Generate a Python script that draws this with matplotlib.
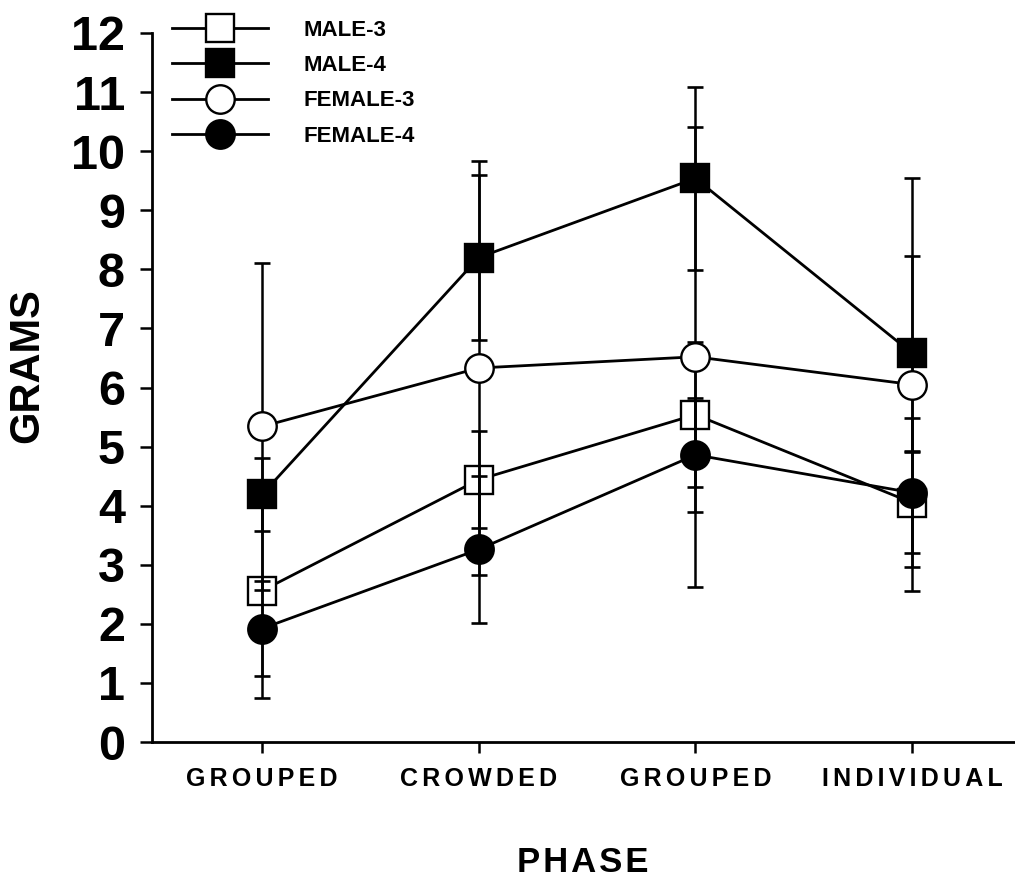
import matplotlib
matplotlib.use("Agg")
import matplotlib.pyplot as plt
from matplotlib.lines import Line2D

plt.rcParams['font.family'] = ['Liberation Sans', 'DejaVu Sans']
plt.rcParams['font.weight'] = 'bold'

# Phases on the x axis
phases = ["GROUPED", "CROWDED", "GROUPED", "INDIVIDUAL"]

# Mean weight (grams) and standard error for each group
male3 = [2.56, 4.44, 5.54, 4.05]
male3_err = [1.81, 0.82, 1.23, 0.85]
male4 = [4.19, 8.20, 9.54, 6.58]
male4_err = [0.62, 1.39, 1.55, 1.65]
female3 = [5.34, 6.33, 6.52, 6.05]
female3_err = [2.77, 3.50, 3.89, 3.49]
female4 = [1.92, 3.26, 4.86, 4.22]
female4_err = [0.80, 1.24, 0.97, 1.26]

y_ticks = list(range(0, 13))

W, H = 1015, 881
fig = plt.figure(figsize=(W / 100, H / 100), dpi=100)
ax = fig.add_axes([152 / W, 1 - 742 / H, (1015 - 152) / W, (742 - 33) / H])

x = list(range(len(phases)))

series = [
    ("MALE-3", male3, male3_err, "s", "white", 2),
    ("MALE-4", male4, male4_err, "s", "black", 4),
    ("FEMALE-3", female3, female3_err, "o", "white", 4),
    ("FEMALE-4", female4, female4_err, "o", "black", 4),
]

ms = 20.5
lw = 2.0
mew = 1.7

# error bars sit above the open squares but below the other markers
for name, vals, err, mk, fc, z in series:
    ax.errorbar(x, vals, yerr=err, fmt="none", ecolor="black",
                elinewidth=1.8, capsize=5.5, capthick=1.9, zorder=3)

handles = []
for name, vals, err, mk, fc, z in series:
    ax.plot(x, vals, color="black", lw=lw, marker=mk, ms=ms,
            mfc=fc, mec="black", mew=mew, zorder=z, clip_on=False)
    handles.append(Line2D([], [], color="black", lw=lw, marker=mk, ms=ms,
                          mfc=fc, mec="black", mew=mew))

ax.set_xlim(-0.508, 3.475)
ax.set_ylim(0, 12)

for s in ["top", "right"]:
    ax.spines[s].set_visible(False)
for s in ["left", "bottom"]:
    ax.spines[s].set_linewidth(2.0)

ax.set_yticks(y_ticks)
ax.set_yticklabels([str(v) for v in y_ticks], fontsize=35, fontweight="bold")
ax.tick_params(axis="y", direction="out", length=8.5, width=1.8, pad=11)

spaced = ["\u200a\u200a".join(p) for p in phases]
ax.set_xticks(x)
ax.set_xticklabels(spaced, fontsize=18, fontweight="bold")
ax.tick_params(axis="x", direction="out", length=8, width=1.8, pad=10)

ax.set_ylabel("GRAMS", fontsize=30, fontweight="bold")
ax.yaxis.set_label_coords(29 / W - 152 / W, (742 - 366) / (742 - 33),
                          transform=None)
fig.text(583 / W, 1 - 862 / H, "\u200a".join("PHASE"), fontsize=25,
         fontweight="bold", ha="center", va="center")

leg = ax.legend(handles, [s[0] for s in series], loc="upper left",
                bbox_to_anchor=(172 / W, 1 - 20 / H),
                bbox_transform=fig.transFigure, frameon=False,
                fontsize=16, handlelength=4.3, handletextpad=1.6,
                labelspacing=0.64, borderpad=0, borderaxespad=0)
for t in leg.get_texts():
    t.set_fontweight("bold")

fig.savefig("out.png", dpi=100)
